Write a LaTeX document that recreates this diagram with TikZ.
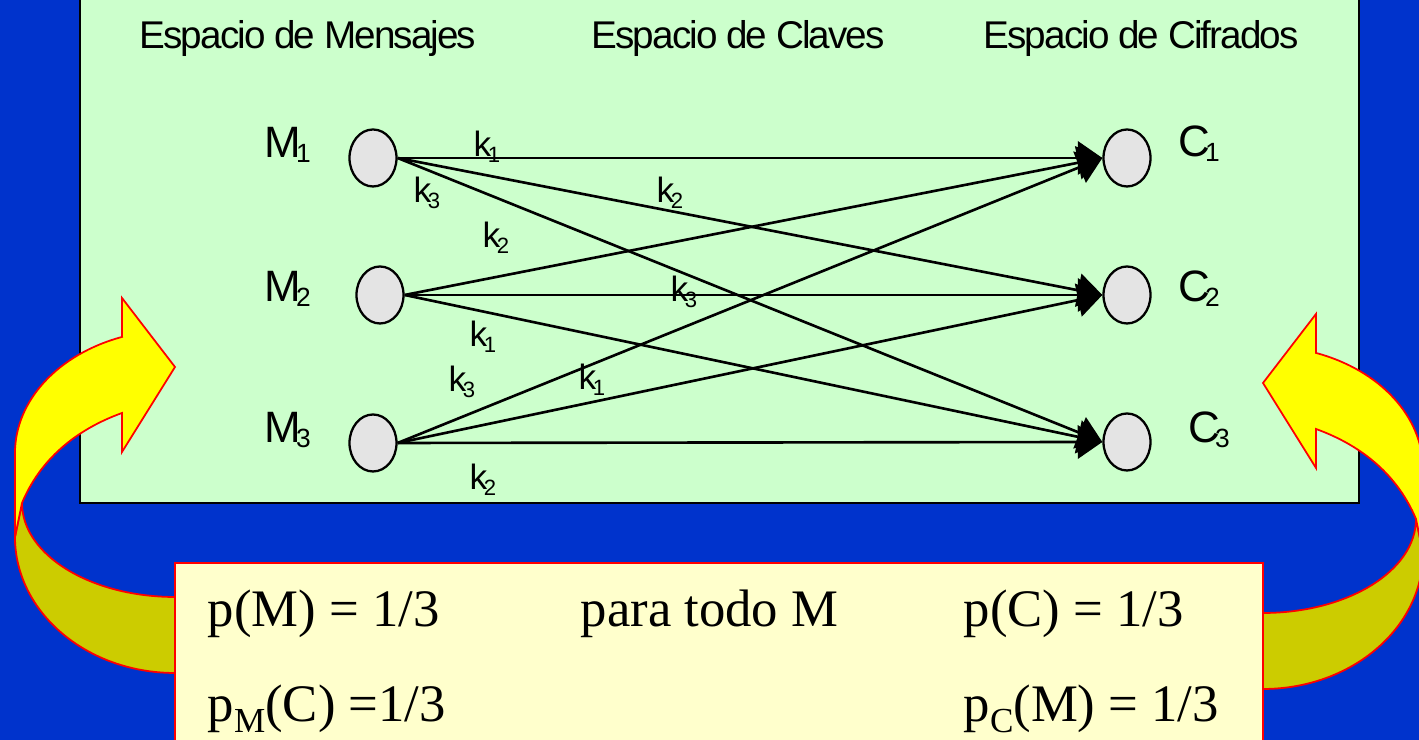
\documentclass[tikz,border=0pt]{standalone}
\usepackage{fontspec}
\setmainfont{Liberation Sans}
\newfontfamily\serifrm{Liberation Serif}
\newfontfamily\titlefont[LetterSpace=-5]{Liberation Sans}
\usetikzlibrary{arrows.meta,shapes.geometric}
\definecolor{slideblue}{HTML}{0033CC}
\definecolor{spacegreen}{HTML}{CCFFCC}
\definecolor{notecream}{HTML}{FFFFCC}
\definecolor{bentyellow}{HTML}{FFFF00}
\definecolor{bentolive}{HTML}{CCCC00}
\definecolor{dotgray}{HTML}{E4E4E4}
\newcommand{\msub}[2]{{\fontsize{12.5}{12.5}\selectfont #1}\kern-1.5pt\raisebox{-1.2pt}{\fontsize{7.5}{7.5}\selectfont #2}}
\newcommand{\ksub}[1]{{\fontsize{10}{10}\selectfont k}\kern-1pt\raisebox{-1.7pt}{\fontsize{6.3}{6.3}\selectfont #1}}
\newcommand{\psub}[1]{p\raisebox{-3pt}{\fontsize{10}{10}\selectfont #1}}
\newcommand{\bentarrow}{%
  \filldraw[fill=bentolive, draw=red, line width=0.5pt] (0.22,2.37)
    arc[start angle=180, end angle=270, x radius=1.53cm, y radius=0.94cm] -- (1.75,0.67)
    arc[start angle=270, end angle=180, x radius=1.6cm, y radius=1.36cm] -- cycle;
  \filldraw[fill=bentyellow, draw=red, line width=0.5pt] (0.15,2.03) -- (0.15,2.87)
    arc[start angle=180, end angle=109.3, x radius=1.6cm, y radius=1.23cm]
    -- (1.22,4.42) -- (1.75,3.73) -- (1.22,2.88) -- (1.22,3.27)
    .. controls (0.75,3.10) and (0.40,2.80) .. (0.22,2.37) -- cycle;
}
\tikzset{
  dot/.style={ellipse, draw, line width=0.65pt, fill=dotgray, minimum width=0.47cm, minimum height=0.57cm, inner sep=0pt},
  keyarrow/.style={line width=0.75pt, -{Triangle[length=7pt, width=9.5pt]}},
  lbl/.style={anchor=base west, inner sep=0pt},
  ttl/.style={anchor=base west, inner sep=0pt, font=\titlefont\fontsize{11}{11}\selectfont},
  note/.style={anchor=base west, inner sep=0pt, font=\serifrm\fontsize{15}{15}\selectfont}
}

\begin{document}
\begin{tikzpicture}
\clip (0,0) rectangle (14.19,7.40);
\fill[slideblue] (0,0) rectangle (14.19,7.40);
\filldraw[fill=spacegreen, draw=black, line width=0.8pt] (0.80,2.37) rectangle (13.59,7.60);
\filldraw[fill=notecream, draw=red, line width=0.4pt] (1.75,1.77) rectangle (12.63,-0.20);

\bentarrow
\begin{scope}[xshift=14.38cm, yshift=-0.16cm, xscale=-1]
\bentarrow
\end{scope}

\node[ttl] (tmen) at (1.39,6.91) {Espacio de Mensajes};
\node[ttl] (tcla) at (5.91,6.91) {Espacio de Claves};
\node[ttl] (tcif) at (9.83,6.91) {Espacio de Cifrados};

\node[dot] (m1) at (3.73,5.82) {};
\node[dot] (m2) at (3.80,4.45) {};
\node[dot] (m3) at (3.73,2.97) {};
\node[dot] (c1) at (11.27,5.82) {};
\node[dot] (c2) at (11.27,4.45) {};
\node[dot] (c3) at (11.27,2.98) {};

\node[lbl] (lm1) at (2.64,5.82) {\msub{M}{1}};
\node[lbl] (lm2) at (2.64,4.38) {\msub{M}{2}};
\node[lbl] (lm3) at (2.64,2.97) {\msub{M}{3}};
\node[lbl] (lc1) at (11.78,5.83) {\msub{C}{1}};
\node[lbl] (lc2) at (11.78,4.38) {\msub{C}{2}};
\node[lbl] (lc3) at (11.88,2.97) {\msub{C}{3}};

\draw[keyarrow] (m1.east) -- (c1.west);
\draw[keyarrow] (m1.east) -- (c2.west);
\draw[keyarrow] (m1.east) -- (c3.west);
\draw[keyarrow] (m2.east) -- (c1.west);
\draw[keyarrow] (m2.east) -- (c2.west);
\draw[keyarrow] (m2.east) -- (c3.west);
\draw[keyarrow] (m3.east) -- (c1.west);
\draw[keyarrow] (m3.east) -- (c2.west);
\draw[keyarrow] (m3.east) -- (c3.west);

\node[lbl] (k11) at (4.73,5.83) {\ksub{1}};
\node[lbl] (k13) at (4.13,5.37) {\ksub{3}};
\node[lbl] (k12) at (6.56,5.37) {\ksub{2}};
\node[lbl] (k22) at (4.82,4.92) {\ksub{2}};
\node[lbl] (k23) at (6.70,4.38) {\ksub{3}};
\node[lbl] (k21) at (4.69,3.93) {\ksub{1}};
\node[lbl] (k33) at (4.48,3.48) {\ksub{3}};
\node[lbl] (k31) at (5.78,3.50) {\ksub{1}};
\node[lbl] (k32) at (4.69,2.50) {\ksub{2}};

\node[note] (pm) at (2.07,1.13) {p(M) = 1/3};
\node[note] (todo) at (5.80,1.13) {para todo M};
\node[note] (pc) at (9.63,1.13) {p(C) = 1/3};
\node[note] (pmc) at (2.07,0.18) {\psub{M}(C) =1/3};
\node[note] (pcm) at (9.63,0.18) {\psub{C}(M) = 1/3};
\end{tikzpicture}
\end{document}
